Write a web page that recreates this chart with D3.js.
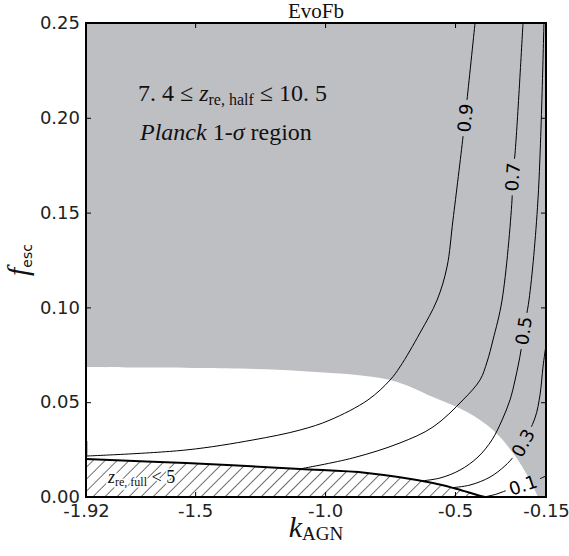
<!DOCTYPE html>
<html><head><meta charset="utf-8">
<script src="https://cdn.jsdelivr.net/npm/d3@7"></script>
<style>body{margin:0;background:#fff}svg{display:block}</style>
</head><body>
<script>
// ---------- data ----------
const xTicks = [-1.92, -1.5, -1.0, -0.5, -0.15];
const xTickLabels = ["-1.92", "-1.5", "-1.0", "-0.5", "-0.15"];
const yTicks = [0, 0.05, 0.10, 0.15, 0.20, 0.25];
const yTickLabels = ["0.00", "0.05", "0.10", "0.15", "0.20", "0.25"];

// lower edge of the Planck 1-sigma (grey) region: [k_AGN, f_esc]
const planckBoundary = [[-1.92,0.0686],[-1.70,0.0683],[-1.481,0.0680],[-1.097,0.0665],[-0.750,0.0617],
  [-0.585,0.0527],[-0.454,0.0448],[-0.354,0.0353],[-0.277,0.0232],[-0.212,0.0090],[-0.181,0.0],[-0.15,-0.009]];
// upper edge of the z_re,full < 5 (hatched) region
const hatchBoundary = [[-1.92,0.0200],[-1.535,0.0179],[-1.097,0.0148],[-0.839,0.0127],[-0.585,0.0074],
  [-0.4925,0.0042],[-0.4155,0.0011],[-0.385,0]];

const contour09 = [[-1.92,0.0216],[-1.535,0.0248],[-1.277,0.0301],[-1.097,0.0353],[-0.981,0.0406],[-0.835,0.0512],
  [-0.750,0.0617],[-0.712,0.0686],[-0.635,0.0865],[-0.569,0.1039],[-0.531,0.1213],[-0.508,0.146],[-0.4694,0.1899],
  [-0.4617,0.1999],[-0.454,0.2094],[-0.423,0.25]];
const contour07 = [[-1.097,0.0148],[-0.893,0.0206],[-0.712,0.0285],[-0.585,0.0369],[-0.4694,0.0512],[-0.404,0.0617],
  [-0.377,0.0712],[-0.354,0.0828],[-0.319,0.1039],[-0.2808,0.1566],[-0.2789,0.1688],[-0.269,0.1814],[-0.2385,0.25]];
const contour05 = [[-0.635,0.0084],[-0.558,0.0100],[-0.481,0.0142],[-0.4117,0.0211],[-0.358,0.0301],[-0.319,0.0406],
  [-0.2885,0.0512],[-0.269,0.0617],[-0.246,0.0775],[-0.2366,0.0876],[-0.2154,0.1039],[-0.181,0.1566],[-0.158,0.25]];
const contour03 = [[-0.15,0.0802],[-0.1616,0.0686],[-0.1731,0.0538],[-0.1923,0.0417],[-0.2385,0.0285],[-0.273,0.0216],
  [-0.308,0.0164],[-0.3655,0.0105],[-0.4424,0.0063],[-0.512,0.0049]];
const contour01 = [[-0.3886,0],[-0.3385,0.0016],[-0.2885,0.0042],[-0.2385,0.0063],[-0.1846,0.0090],[-0.15,0.0111]];

const contourLines = [contour09, contour07, contour05, contour03, contour01];
const contourLevels = ["0.9", "0.7", "0.5", "0.3", "0.1"];
const contourLabelAt = [13, 10, 9, 4, 3];

// ---------- drawing ----------
const W = 569, H = 556;
const L = 86, R = 546, T = 23, B = 497;
const x = d3.scaleLinear().domain([-1.92, -0.15]).range([L, R]);
const y = d3.scaleLinear().domain([0, 0.25]).range([B, T]);

const svg = d3.select("body").append("svg").attr("width", W).attr("height", H);
const defs = svg.append("defs");
defs.append("clipPath").attr("id", "plotclip").append("rect")
  .attr("x", L).attr("y", T).attr("width", R - L).attr("height", B - T);
const pat = defs.append("pattern").attr("id", "hatch").attr("patternUnits", "userSpaceOnUse")
  .attr("width", 8.5).attr("height", 8.5).attr("patternTransform", "rotate(45)");
pat.append("line").attr("x1", 0).attr("y1", 0).attr("x2", 0).attr("y2", 8.5)
  .attr("stroke", "#000").attr("stroke-width", 1.1);

const plot = svg.append("g").attr("clip-path", "url(#plotclip)");
const smooth = d3.curveCatmullRom.alpha(0.5);

// grey Planck region
plot.append("path")
  .datum(planckBoundary)
  .attr("d", d3.area().x(d => x(d[0])).y0(y(0.25)).y1(d => y(d[1])).curve(smooth))
  .attr("fill", "#bebfc3");

// hatched region
plot.append("path")
  .datum(hatchBoundary)
  .attr("d", d3.area().x(d => x(d[0])).y0(y(0)).y1(d => y(d[1])).curve(smooth))
  .attr("fill", "url(#hatch)");

const line = d3.line().x(d => x(d[0])).y(d => y(d[1])).curve(smooth);

// label placement: angles follow the contour itself
const labels = contourLines.map((c, i) => {
  const j = contourLabelAt[i];
  const a = c[Math.max(0, j - 1)], b = c[Math.min(c.length - 1, j + 1)];
  let ang = Math.atan2(y(b[1]) - y(a[1]), x(b[0]) - x(a[0])) * 180 / Math.PI;
  if (ang > 90) ang -= 180;
  if (ang < -90) ang += 180;
  return {text: contourLevels[i], px: x(c[j][0]), py: y(c[j][1]), ang};
});

const labelG = svg.append("g");
const lt = labelG.selectAll("text").data(labels).join("text")
  .attr("transform", d => `translate(${d.px},${d.py}) rotate(${d.ang})`)
  .attr("text-anchor", "middle").attr("dominant-baseline", "central")
  .attr("font-family", "DejaVu Sans").attr("font-size", 18).attr("fill", "#000")
  .text(d => d.text);
lt.each(function(d) { d.w = this.getComputedTextLength(); });

const mask = defs.append("mask").attr("id", "labmask").attr("maskUnits", "userSpaceOnUse")
  .attr("x", 0).attr("y", 0).attr("width", W).attr("height", H);
mask.append("rect").attr("width", W).attr("height", H).attr("fill", "#fff");
mask.selectAll("rect.g").data(labels).join("rect").attr("class", "g")
  .attr("transform", d => `translate(${d.px},${d.py}) rotate(${d.ang})`)
  .attr("x", d => -d.w / 2 - 4).attr("y", -8).attr("width", d => d.w + 8).attr("height", 16)
  .attr("fill", "#000");

plot.append("g").attr("mask", "url(#labmask)")
  .selectAll("path").data(contourLines).join("path")
  .attr("d", line).attr("fill", "none").attr("stroke", "#000").attr("stroke-width", 1);

// hatch boundary (thick)
plot.append("path").datum(hatchBoundary).attr("d", line)
  .attr("fill", "none").attr("stroke", "#000").attr("stroke-width", 2);
// short segment hugging the left spine
plot.append("path").datum([[-1.918, 0.0296], [-1.918, 0.0215]]).attr("d", d3.line().x(d => x(d[0])).y(d => y(d[1])))
  .attr("stroke", "#000").attr("stroke-width", 1.5);

labelG.raise();

// hatch note
const hn = svg.append("text").attr("x", 108).attr("y", 483)
  .attr("font-family", "Liberation Serif").attr("font-size", 18)
  .attr("stroke", "#fff").attr("stroke-width", 3).attr("paint-order", "stroke").attr("fill", "#111");
hn.append("tspan").attr("font-style", "italic").text("z");
hn.append("tspan").attr("font-size", 12).attr("dy", 3).text("re, full");
hn.append("tspan").attr("dy", -3).text(" < 5");

// annotations
const a1 = svg.append("text").attr("x", 138).attr("y", 101)
  .attr("font-family", "Liberation Serif").attr("font-size", 24).attr("fill", "#111");
a1.append("tspan").text("7. 4 \u2264 ");
a1.append("tspan").attr("font-style", "italic").text("z");
a1.append("tspan").attr("font-size", 16).attr("dy", 4).text("re, half");
a1.append("tspan").attr("dy", -4).text(" \u2264 10. 5");

const a2 = svg.append("text").attr("x", 140).attr("y", 140)
  .attr("font-family", "Liberation Serif").attr("font-size", 24).attr("fill", "#111");
a2.append("tspan").attr("font-style", "italic").text("Planck");
a2.append("tspan").text(" 1-");
a2.append("tspan").attr("font-style", "italic").text("\u03c3");
a2.append("tspan").text(" region");

// axes
const tickStyle = g => {
  g.selectAll(".domain").remove();
  g.selectAll(".tick line").attr("stroke", "#000").attr("stroke-width", 1);
  g.selectAll(".tick text").attr("font-family", "DejaVu Sans").attr("font-size", 18).attr("fill", "#222");
};
svg.append("g").attr("transform", `translate(0,${B})`)
  .call(d3.axisBottom(x).tickValues(xTicks).tickFormat((d, i) => xTickLabels[i]).tickSize(-5).tickPadding(7))
  .call(tickStyle);
svg.append("g").attr("transform", `translate(0,${T})`)
  .call(d3.axisTop(x).tickValues(xTicks).tickFormat(() => "").tickSize(-5))
  .call(tickStyle);
svg.append("g").attr("transform", `translate(${L},0)`)
  .call(d3.axisLeft(y).tickValues(yTicks).tickFormat((d, i) => yTickLabels[i]).tickSize(-5).tickPadding(6))
  .call(tickStyle);
svg.append("g").attr("transform", `translate(${R},0)`)
  .call(d3.axisRight(y).tickValues(yTicks).tickFormat(() => "").tickSize(-5))
  .call(tickStyle);

// frame
svg.append("rect").attr("x", L).attr("y", T).attr("width", R - L).attr("height", B - T)
  .attr("fill", "none").attr("stroke", "#000").attr("stroke-width", 2);

// title
svg.append("text").attr("x", (L + R) / 2).attr("y", 17.5).attr("text-anchor", "middle")
  .attr("font-family", "Liberation Serif").attr("font-size", 21).attr("fill", "#111").text("EvoFb");

// x label
const xl = svg.append("text").attr("x", (L + R) / 2).attr("y", 537).attr("text-anchor", "middle")
  .attr("font-family", "Liberation Serif").attr("font-size", 30).attr("fill", "#111");
xl.append("tspan").attr("font-style", "italic").text("k");
xl.append("tspan").attr("font-size", 19).attr("dy", 3).text("AGN");

// y label
const yl = svg.append("text").attr("transform", `translate(28,${(T + B) / 2}) rotate(-90)`)
  .attr("text-anchor", "middle").attr("font-family", "Liberation Serif").attr("font-size", 30).attr("fill", "#111");
yl.append("tspan").attr("font-style", "italic").text("f");
yl.append("tspan").attr("font-family", "DejaVu Sans").attr("font-size", 14).attr("dy", 4).text("esc");
</script>
</body></html>
